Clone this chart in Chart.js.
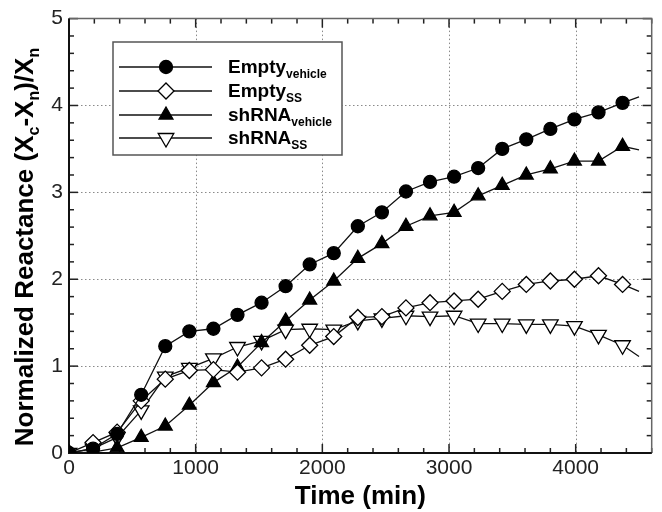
<!DOCTYPE html>
<html><head><meta charset="utf-8">
<script src="https://cdn.jsdelivr.net/npm/chart.js@4.4.1/dist/chart.umd.min.js"></script>
<style>html,body{margin:0;padding:0;background:#fff}#wrap{width:662px;height:512px;position:relative}</style>
</head><body><div id="wrap"><canvas id="c" width="662" height="512"></canvas></div>
<script>
// ---- data ----
const timeMin = [0,190,380,570,760,950,1140,1330,1520,1710,1900,2090,2280,2470,2660,2850,3040,3230,3420,3610,3800,3990,4180,4370,4500];
const emptyVehicle = [0,0.05,0.22,0.67,1.23,1.40,1.43,1.59,1.73,1.92,2.17,2.30,2.61,2.77,3.01,3.12,3.18,3.28,3.50,3.61,3.73,3.84,3.92,4.03,4.10];
const emptySS      = [0,0.12,0.24,0.60,0.85,0.95,0.96,0.93,0.98,1.08,1.24,1.34,1.56,1.57,1.67,1.73,1.75,1.77,1.86,1.94,1.98,2.00,2.04,1.94,1.86];
const shRNAVehicle = [0,0.01,0.06,0.18,0.31,0.55,0.81,0.99,1.27,1.52,1.76,1.98,2.24,2.41,2.61,2.73,2.77,2.96,3.08,3.20,3.27,3.36,3.36,3.53,3.49];
const shRNASS      = [0,0.05,0.18,0.49,0.88,0.98,1.09,1.22,1.29,1.42,1.43,1.42,1.52,1.55,1.58,1.57,1.58,1.49,1.49,1.48,1.48,1.46,1.36,1.24,1.11];
const xTickLabels = [0,1000,2000,3000,4000];
const yTickLabels = [0,1,2,3,4,5];
const seriesNames = [['Empty','vehicle'],['Empty','SS'],['shRNA','vehicle'],['shRNA','SS']];
const yTitleParts = [['Normalized Reactance (X',0],['c',1],['-X',0],['n',1],[')/X',0],['n',1]];
const xTitle = 'Time (min)';

const FONT = "'Liberation Sans', Arial, Helvetica, sans-serif";
const markers = [
  {style:'circle', fill:'#000', r:6.5, rot:0},
  {style:'rectRot', fill:'#fff', r:8, rot:0},
  {style:'triangle', fill:'#000', r:8, rot:0},
  {style:'triangle', fill:'#fff', r:9, rot:180}
];
const seriesData = [emptyVehicle, emptySS, shRNAVehicle, shRNASS];

function makeDs(i){
  const m = markers[i];
  return {
    label: seriesNames[i].join(''),
    data: timeMin.map((t,k)=>({x:t, y:seriesData[i][k]})),
    borderColor:'#111', borderWidth:1.3, tension:0, fill:false,
    pointStyle:m.style, pointRotation:m.rot,
    pointRadius: timeMin.map((t,k)=> k===timeMin.length-1 ? 0 : m.r),
    pointHoverRadius: m.r,
    pointBackgroundColor:m.fill, pointBorderColor:'#000', pointBorderWidth:1.3
  };
}

function drawMarker(ctx, m, x, y){
  ctx.save();
  ctx.fillStyle = m.fill; ctx.strokeStyle = '#000'; ctx.lineWidth = 1.3;
  ctx.beginPath();
  if (m.style==='circle'){ ctx.arc(x,y,m.r,0,Math.PI*2); }
  else if (m.style==='rectRot'){ ctx.moveTo(x,y-m.r); ctx.lineTo(x+m.r,y); ctx.lineTo(x,y+m.r); ctx.lineTo(x-m.r,y); ctx.closePath(); }
  else {
    const rot = m.rot*Math.PI/180;
    for (let k=0;k<3;k++){
      const a = rot - Math.PI/2 + k*2*Math.PI/3;
      const px = x + Math.cos(a)*m.r, py = y + Math.sin(a)*m.r;
      if(k===0) ctx.moveTo(px,py); else ctx.lineTo(px,py);
    }
    ctx.closePath();
  }
  ctx.fill(); ctx.stroke();
  ctx.restore();
}

function richWidth(ctx, parts, size, subSize){
  let w=0;
  for (const [t,sub] of parts){ ctx.font = 'bold '+(sub?subSize:size)+'px '+FONT; w += ctx.measureText(t).width; }
  return w;
}
function drawRich(ctx, parts, x, y, size, subSize, subDy){
  let cx = x;
  for (const [t,sub] of parts){
    ctx.font = 'bold '+(sub?subSize:size)+'px '+FONT;
    ctx.fillText(t, cx, y + (sub?subDy:0));
    cx += ctx.measureText(t).width;
  }
}

const framePlugin = {
  id:'frame',
  beforeDatasetsDraw(chart){
    const {ctx, chartArea:a, scales:{x, y}} = chart;
    ctx.save();
    // dotted grid at major values
    ctx.strokeStyle = '#8a8a8a'; ctx.lineWidth = 1; ctx.setLineDash([1.5,2.5]);
    for (const v of xTickLabels){ if (v===0) continue; const px=Math.round(x.getPixelForValue(v))+0.5;
      ctx.beginPath(); ctx.moveTo(px,a.top); ctx.lineTo(px,a.bottom); ctx.stroke(); }
    for (const v of yTickLabels){ if (v===0||v===5) continue; const py=Math.round(y.getPixelForValue(v))+0.5;
      ctx.beginPath(); ctx.moveTo(a.left,py); ctx.lineTo(a.right,py); ctx.stroke(); }
    ctx.setLineDash([]);
    // inward ticks
    ctx.strokeStyle = '#222'; ctx.lineWidth = 1.5;
    for (let v=0; v<=4600; v+=200){
      const px = x.getPixelForValue(v); const L = (v%1000===0)?9:5;
      ctx.beginPath(); ctx.moveTo(px,a.bottom); ctx.lineTo(px,a.bottom-L); ctx.stroke();
      ctx.beginPath(); ctx.moveTo(px,a.top); ctx.lineTo(px,a.top+L); ctx.stroke();
    }
    for (let i=0; i<=25; i++){
      const v = i*0.2; const py = y.getPixelForValue(v); const L = (i%5===0)?9:5;
      ctx.beginPath(); ctx.moveTo(a.left,py); ctx.lineTo(a.left+L,py); ctx.stroke();
      ctx.beginPath(); ctx.moveTo(a.right,py); ctx.lineTo(a.right-L,py); ctx.stroke();
    }
    // frame
    ctx.strokeStyle = '#666'; ctx.lineWidth = 1.5;
    ctx.beginPath(); ctx.moveTo(a.left,a.top); ctx.lineTo(a.right,a.top); ctx.lineTo(a.right,a.bottom); ctx.stroke();
    ctx.strokeStyle = '#111'; ctx.lineWidth = 2;
    ctx.beginPath(); ctx.moveTo(a.left,a.top); ctx.lineTo(a.left,a.bottom); ctx.lineTo(a.right,a.bottom); ctx.stroke();
    ctx.restore();
  },
  afterDraw(chart){
    const {ctx, chartArea:a} = chart;
    ctx.save();
    ctx.fillStyle = '#000'; ctx.textBaseline = 'alphabetic';
    // x title
    ctx.font = 'bold 26px '+FONT;
    const xw = ctx.measureText(xTitle).width;
    ctx.fillText(xTitle, (a.left+a.right)/2 - xw/2, 504);
    // y title
    ctx.save();
    ctx.translate(33, 247); ctx.rotate(-Math.PI/2);
    const yw = richWidth(ctx, yTitleParts, 26, 16);
    drawRich(ctx, yTitleParts, -yw/2, 0, 26, 16, 6);
    ctx.restore();
    // legend
    const bx=113, by=42, bw=229, bh=113;
    ctx.fillStyle='#fff'; ctx.fillRect(bx,by,bw,bh);
    ctx.strokeStyle='#555'; ctx.lineWidth=1.5; ctx.strokeRect(bx,by,bw,bh);
    const rows=[67,91,115,138];
    for (let i=0;i<4;i++){
      const ry=rows[i];
      ctx.strokeStyle='#111'; ctx.lineWidth=1.3;
      ctx.beginPath(); ctx.moveTo(119,ry); ctx.lineTo(212,ry); ctx.stroke();
      drawMarker(ctx, markers[i], 166, ry);
      ctx.fillStyle='#000';
      drawRich(ctx, [[seriesNames[i][0],0],[seriesNames[i][1],1]], 228, ry+6, 19, 12, 5);
    }
    ctx.restore();
  }
};

new Chart(document.getElementById('c'), {
  type:'line',
  data:{ datasets:[makeDs(0), makeDs(1), makeDs(2), makeDs(3)] },
  options:{
    responsive:false, animation:false, devicePixelRatio:1,
    layout:{ padding:{ left:0, right:0, top:15, bottom:0 } },
    plugins:{ legend:{display:false}, tooltip:{enabled:false}, title:{display:false} },
    scales:{
      x:{ type:'linear', min:0, max:4600,
          grid:{display:false, drawTicks:false}, border:{display:false},
          afterBuildTicks(s){ s.ticks = xTickLabels.map(v=>({value:v})); },
          afterFit(s){ s.height = 59; },
          ticks:{ color:'#222', padding:3, maxRotation:0, autoSkip:false, font:{family:FONT, size:21},
                  callback:(v)=>String(v) } },
      y:{ type:'linear', min:0, max:5,
          grid:{display:false, drawTicks:false}, border:{display:false},
          afterBuildTicks(s){ s.ticks = yTickLabels.map(v=>({value:v})); },
          afterFit(s){ s.width = 69; },
          ticks:{ color:'#222', padding:6, font:{family:FONT, size:21}, callback:(v)=>String(v) } }
    }
  },
  plugins:[framePlugin]
});
</script>
</body></html>
